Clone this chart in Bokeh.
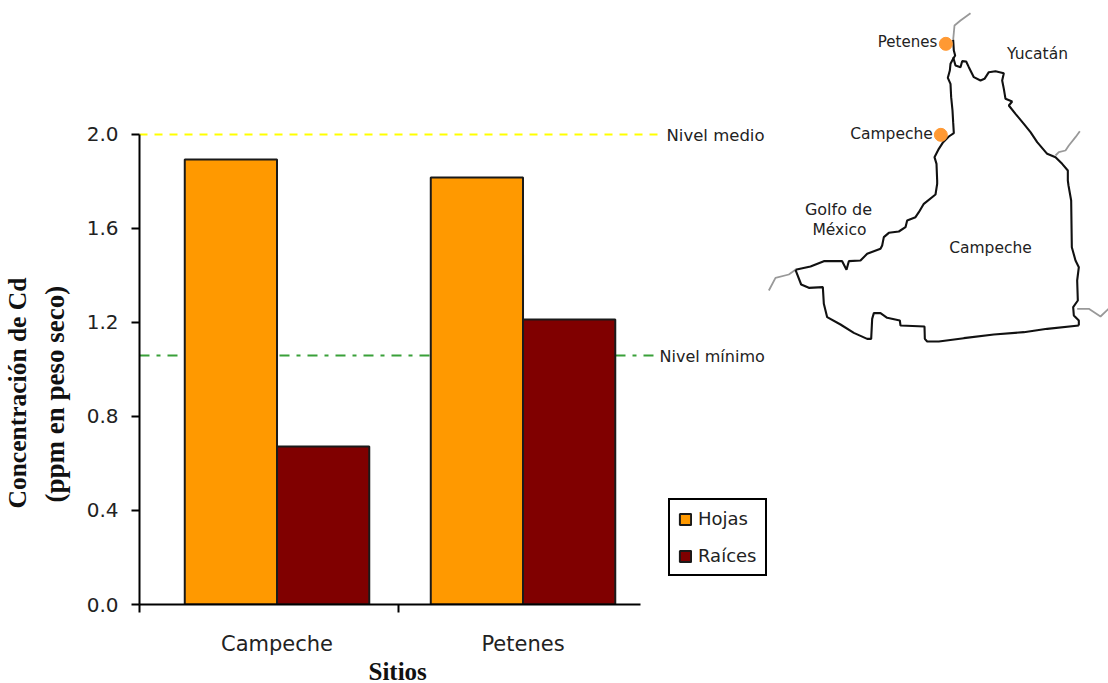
from bokeh.plotting import figure
from bokeh.models import (Range1d, LinearAxis, FixedTicker, Label, Legend, LegendItem,
                          NumeralTickFormatter, Title)
from bokeh.embed import file_html
from bokeh.resources import INLINE

# Cadmium concentration by site and tissue
sites = ["Campeche", "Petenes"]
hojas = [1.894, 1.817]
raices = [0.672, 1.213]
y_ticks = [0.0, 0.4, 0.8, 1.2, 1.6, 2.0]
nivel_medio = 2.0
nivel_minimo = 1.06

# State outline, in map units (three per screen pixel, measured from the map's corner)
coast_north = ([578, 580, 584, 578, 570, 568, 562, 570, 572, 576, 578, 580, 565, 548, 535, 522, 528, 530,
                530, 525, 490, 475, 465, 440, 435, 415, 385, 370, 365, 360, 320, 300, 265, 258, 245, 190, 150, 105],
               [118, 150, 165, 175, 190, 210, 232, 250, 290, 330, 365, 398, 408, 425, 445, 470, 490, 540,
                550, 582, 610, 635, 650, 660, 680, 693, 697, 710, 735, 745, 760, 780, 782, 808, 782, 782, 798, 808])
border_yucatan = ([578, 585, 600, 605, 617, 625, 640, 660, 672, 685, 705, 730, 725, 730, 735, 755, 745, 765,
                   790, 810, 830, 860, 885, 905, 922, 922, 924, 932, 934, 945, 955, 950, 952, 938, 940, 955, 955],
                  [170, 195, 200, 182, 183, 200, 230, 240, 235, 215, 212, 218, 240, 265, 295, 303, 315, 340,
                   370, 395, 425, 460, 470, 490, 510, 540, 555, 600, 740, 780, 800, 840, 900, 920, 945, 960, 975])
border_south = ([955, 860, 790, 700, 610, 535, 500, 493, 492, 420, 418, 380, 360, 340, 335, 332, 320, 280,
                 240, 200, 190, 187, 145, 122, 105],
                [975, 985, 995, 1002, 1013, 1023, 1023, 1015, 978, 975, 960, 952, 938, 938, 955, 1015, 1015, 997,
                 972, 950, 910, 860, 862, 852, 808])
# Neighbouring state lines, drawn in grey
grey_north = ([578, 582, 600, 630], [118, 75, 60, 38])
grey_east = ([885, 895, 915, 925, 945, 958], [465, 455, 450, 435, 410, 392])
grey_west = ([105, 85, 45, 25], [808, 822, 832, 870])
grey_south = ([950, 985, 1020, 1044], [925, 925, 948, 925])

# Sampling sites marked on the map
site_x = [556, 541]
site_y = [130, 403]

p = figure(width=1108, height=683, frame_width=969, frame_height=604,
           output_backend="svg", toolbar_location=None,
           x_range=Range1d(-0.559, 3.380), y_range=Range1d(0, 2.5702),
           min_border_left=139, min_border_right=0, min_border_top=0, min_border_bottom=79,
           x_axis_type=None, y_axis_type=None, outline_line_color=None,
           background_fill_color="white", border_fill_color="white")
p.grid.visible = False

p.extra_x_ranges["map_x"] = Range1d(-1863, 1044)
p.extra_y_ranges["map_y"] = Range1d(1812, 0)
p.extra_x_ranges["px_x"] = Range1d(139, 1108)
p.extra_y_ranges["px_y"] = Range1d(604, 0)

TXT = "#222222"
FONT = "DejaVu Sans"
SERIF = "Liberation Serif"

# Value axis
yax = LinearAxis(ticker=FixedTicker(ticks=y_ticks), bounds=(0, 2),
                 formatter=NumeralTickFormatter(format="0.0"))
yax.axis_line_color = "black"
yax.axis_line_width = 2
yax.major_tick_line_color = "black"
yax.major_tick_line_width = 2
yax.major_tick_in = 0
yax.major_tick_out = 8
yax.minor_tick_line_color = None
yax.major_label_text_font = FONT
yax.major_label_text_font_size = "20px"
yax.major_label_text_color = TXT
yax.major_label_standoff = 13
p.add_layout(yax, "left")

# Site axis: labels on the major ticks, division marks on the minor ones
xax = LinearAxis(ticker=FixedTicker(ticks=[0, 1], minor_ticks=[-0.559, 0.494]), bounds=(-0.559, 1.478),
                 major_label_overrides={i: s for i, s in enumerate(sites)})
xax.axis_line_color = "black"
xax.axis_line_width = 2
xax.major_tick_line_color = None
xax.major_tick_in = 0
xax.major_tick_out = 0
xax.minor_tick_line_color = "black"
xax.minor_tick_line_width = 2
xax.minor_tick_in = 0
xax.minor_tick_out = 8
xax.major_label_text_font = FONT
xax.major_label_text_font_size = "21px"
xax.major_label_text_color = TXT
xax.major_label_standoff = 19
p.add_layout(xax, "below")

# Axis titles sit off-centre from the frame, so each is placed by its offset
p.add_layout(Title(text="Sitios", align="left", offset=229, standoff=-6, text_font=SERIF, text_font_style="bold",
                   text_font_size="25px", text_color="#111111"), "below")
p.add_layout(Title(text="(ppm en peso seco)", align="left", offset=102, standoff=28, text_font=SERIF,
                   text_font_style="bold", text_font_size="27px", text_color="#111111"), "left")
p.add_layout(Title(text="Concentración de Cd", align="left", offset=96, standoff=-16, text_font=SERIF,
                   text_font_style="bold", text_font_size="25.5px", text_color="#111111"), "left")

# Reference levels
p.line([-0.559, 1.56], [nivel_medio, nivel_medio], line_color="#FFFF00", line_width=2, line_dash="8 7")
p.line([-0.559, 1.54], [nivel_minimo, nivel_minimo], line_color="#39A039", line_width=2, line_dash="10 7 4 7")

# Grouped bars
w = 0.375
r1 = p.vbar(x=[i - w / 2 for i in range(2)], top=hojas, width=w, bottom=0,
            fill_color="#FF9900", line_color="#1a1a1a", line_width=2)
r2 = p.vbar(x=[i + w / 2 for i in range(2)], top=raices, width=w, bottom=0,
            fill_color="#800000", line_color="#1a1a1a", line_width=2)

legend = Legend(items=[LegendItem(label="Hojas", renderers=[r1]), LegendItem(label="Raíces", renderers=[r2])],
                location=(529, 28), orientation="vertical",
                border_line_color="black", border_line_width=2, border_line_alpha=1,
                background_fill_color="white", background_fill_alpha=1,
                glyph_width=14, glyph_height=14, label_text_font=FONT, label_text_font_size="18px",
                label_text_color=TXT, spacing=16, padding=8, margin=0, label_standoff=6, label_height=18)
p.add_layout(legend, "center")

# Map of the state
for xs, ys in (grey_north, grey_east, grey_west, grey_south):
    p.line(xs, ys, x_range_name="map_x", y_range_name="map_y", line_color="#999999", line_width=1.8)
for xs, ys in (coast_north, border_yucatan, border_south):
    p.line(xs, ys, x_range_name="map_x", y_range_name="map_y", line_color="#111111", line_width=2.1)
p.scatter(site_x, site_y, x_range_name="map_x", y_range_name="map_y", size=13,
          fill_color="#FF9933", line_color="#FF9933")


def txt(s, x, y, size="15px", align="center"):
    p.add_layout(Label(x=x, y=y, x_range_name="px_x", y_range_name="px_y", text=s,
                       text_font=FONT, text_font_size=size, text_align=align,
                       text_baseline="middle", text_color=TXT))


txt("Nivel medio", 666, 135, size="16.5px", align="left")
txt("Nivel mínimo", 659, 356, size="16px", align="left")
txt("Petenes", 907, 41)
txt("Campeche", 891, 133, size="15.5px")
txt("Yucatán", 1037, 53, size="15.5px")
txt("Golfo de", 838, 209, size="16px")
txt("México", 839, 229, size="15.5px")
txt("Campeche", 990, 247, size="15.5px")

open("out.html", "w").write(file_html(p, INLINE))
